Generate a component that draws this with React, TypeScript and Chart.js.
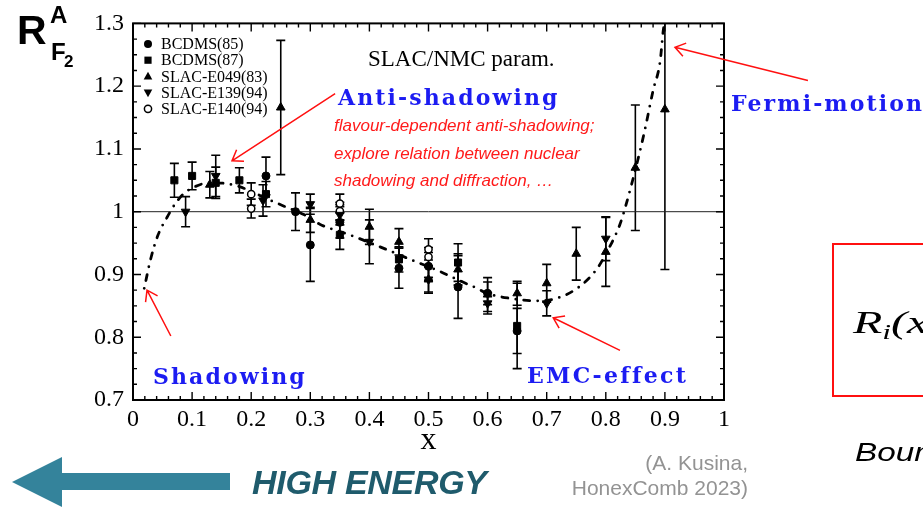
import React, { useEffect, useRef } from "react";
import { Chart, registerables } from "chart.js";

Chart.register(...registerables);

// ---------- data ----------
const seriesNames = ["BCDMS(85)", "BCDMS(87)", "SLAC-E049(83)", "SLAC-E139(94)", "SLAC-E140(94)"];

const bcdms85X = [0.225, 0.275, 0.30, 0.35, 0.45, 0.50, 0.55, 0.60, 0.65];
const bcdms85Y = [1.057, 1.000, 0.947, 0.983, 0.910, 0.913, 0.880, 0.870, 0.810];
const bcdms85Err = [0.030, 0.030, 0.058, 0.025, 0.032, 0.022, 0.050, 0.018, 0.036];

const bcdms87X = [0.07, 0.10, 0.14, 0.18, 0.225, 0.35, 0.45, 0.55, 0.65];
const bcdms87Y = [1.050, 1.057, 1.046, 1.050, 1.028, 0.963, 0.924, 0.919, 0.818];
const bcdms87Err = [0.027, 0.022, 0.025, 0.020, 0.020, 0.023, 0.020, 0.030, 0.068];

const e049X = [0.13, 0.25, 0.30, 0.40, 0.45, 0.50, 0.55, 0.60, 0.65, 0.70, 0.75, 0.80, 0.85, 0.90];
const e049Y = [1.043, 1.166, 0.987, 0.976, 0.952, 0.892, 0.908, 0.868, 0.870, 0.886, 0.933, 0.936, 1.070, 1.163];
const e049Err = [0.021, 0.107, 0.020, 0.028, 0.021, 0.020, 0.025, 0.027, 0.019, 0.030, 0.042, 0.055, 0.100, 0.255];

const e139X = [0.089, 0.14, 0.22, 0.30, 0.35, 0.40, 0.50, 0.60, 0.70, 0.80];
const e139Y = [1.000, 1.057, 1.018, 1.012, 0.995, 0.952, 0.892, 0.854, 0.854, 0.957];
const e139Err = [0.024, 0.033, 0.025, 0.016, 0.016, 0.035, 0.022, 0.017, 0.020, 0.035];

const e140X = [0.20, 0.20, 0.35, 0.35, 0.50, 0.50];
const e140Y = [1.028, 1.005, 1.013, 1.001, 0.940, 0.928];
const e140Err = [0.018, 0.015, 0.015, 0.014, 0.017, 0.015];

// SLAC/NMC parametrisation curve
const curveX = [0.019, 0.030, 0.042, 0.057, 0.071, 0.085, 0.105, 0.130, 0.156, 0.180, 0.203, 0.228, 0.260, 0.290, 0.316, 0.367, 0.418, 0.469, 0.519, 0.553, 0.582, 0.599, 0.638, 0.683, 0.717, 0.756, 0.785, 0.802, 0.824, 0.833, 0.853, 0.866, 0.880, 0.892, 0.897, 0.899];
const curveY = [0.878, 0.925, 0.962, 0.990, 1.012, 1.028, 1.040, 1.046, 1.045, 1.040, 1.031, 1.020, 1.007, 0.995, 0.980, 0.963, 0.944, 0.924, 0.905, 0.890, 0.878, 0.870, 0.862, 0.858, 0.862, 0.881, 0.909, 0.936, 0.980, 1.007, 1.078, 1.130, 1.193, 1.240, 1.287, 1.300];

const referenceY = 1.0;

const xTickLabels = ["0", "0.1", "0.2", "0.3", "0.4", "0.5", "0.6", "0.7", "0.8", "0.9", "1"];
const yTickLabels = ["0.7", "0.8", "0.9", "1", "1.1", "1.2", "1.3"];
const xTitle = "x";

// annotation arrows (data coordinates: tail -> head)
const arrowTailX = [0.342, 0.064, 0.824, 1.142];
const arrowTailY = [1.188, 0.802, 0.779, 1.209];
const arrowHeadX = [0.1675, 0.0237, 0.711, 0.917];
const arrowHeadY = [1.081, 0.875, 0.831, 1.262];

// ---------- helpers ----------
const pts = (xs: number[], ys: number[]) => xs.map((x, i) => ({ x, y: ys[i] }));
const SERIF = '"Liberation Serif", "Times New Roman", serif';
const SANS = '"Liberation Sans", Arial, sans-serif';
const BOLDSERIF = '"DejaVu Serif", serif';

function drawMarker(ctx: CanvasRenderingContext2D, kind: number, x: number, y: number) {
  ctx.save();
  ctx.fillStyle = "#000";
  ctx.strokeStyle = "#000";
  ctx.lineWidth = 1.5;
  ctx.beginPath();
  if (kind === 0) {
    ctx.arc(x, y, 4, 0, Math.PI * 2);
    ctx.fill();
  } else if (kind === 1) {
    ctx.rect(x - 3.6, y - 3.6, 7.2, 7.2);
    ctx.fill();
  } else if (kind === 2) {
    ctx.moveTo(x, y - 4.6);
    ctx.lineTo(x + 4.3, y + 3);
    ctx.lineTo(x - 4.3, y + 3);
    ctx.closePath();
    ctx.fill();
  } else if (kind === 3) {
    ctx.moveTo(x, y + 4.6);
    ctx.lineTo(x + 4.3, y - 3);
    ctx.lineTo(x - 4.3, y - 3);
    ctx.closePath();
    ctx.fill();
  } else {
    ctx.arc(x, y, 3.6, 0, Math.PI * 2);
    ctx.fillStyle = "#fff";
    ctx.fill();
    ctx.stroke();
  }
  ctx.restore();
}

const errorBarPlugin = {
  id: "errorBars",
  beforeDatasetsDraw(chart: any) {
    const { ctx, chartArea: a, scales } = chart;
    const xs = scales.x;
    const ys = scales.y;
    ctx.save();
    ctx.beginPath();
    ctx.rect(a.left, a.top, a.right - a.left, a.bottom - a.top);
    ctx.clip();
    ctx.strokeStyle = "#000";
    ctx.lineWidth = 1.6;
    chart.data.datasets.forEach((ds: any) => {
      const errs: number[] | undefined = ds.errors;
      if (!errs) return;
      ds.data.forEach((p: any, j: number) => {
        const px = xs.getPixelForValue(p.x);
        const y1 = ys.getPixelForValue(p.y + errs[j]);
        const y2 = ys.getPixelForValue(p.y - errs[j]);
        ctx.beginPath();
        ctx.moveTo(px, y1);
        ctx.lineTo(px, y2);
        ctx.moveTo(px - 4.5, y1);
        ctx.lineTo(px + 4.5, y1);
        ctx.moveTo(px - 4.5, y2);
        ctx.lineTo(px + 4.5, y2);
        ctx.stroke();
      });
    });
    ctx.restore();
  },
};

const frameTicksPlugin = {
  id: "frameTicks",
  afterDraw(chart: any) {
    const { ctx, chartArea: a, scales } = chart;
    const xs = scales.x;
    const ys = scales.y;
    ctx.save();
    ctx.strokeStyle = "#000";
    ctx.lineWidth = 1.4;
    ctx.beginPath();
    for (let i = 0; i <= 50; i++) {
      const px = xs.getPixelForValue(i * 0.02);
      const L = i % 5 === 0 ? 8 : 4;
      ctx.moveTo(px, a.bottom);
      ctx.lineTo(px, a.bottom - L);
      ctx.moveTo(px, a.top);
      ctx.lineTo(px, a.top + L);
    }
    for (let i = 0; i <= 24; i++) {
      const py = ys.getPixelForValue(0.7 + i * 0.025);
      const L = i % 4 === 0 ? 8 : 4;
      ctx.moveTo(a.left, py);
      ctx.lineTo(a.left + L, py);
      ctx.moveTo(a.right, py);
      ctx.lineTo(a.right - L, py);
    }
    ctx.stroke();
    ctx.lineWidth = 2;
    ctx.strokeRect(a.left, a.top, a.right - a.left, a.bottom - a.top);

    // legend
    ctx.font = `16px ${SERIF}`;
    ctx.fillStyle = "#000";
    ctx.textBaseline = "middle";
    ctx.textAlign = "left";
    seriesNames.forEach((name, i) => {
      const yy = 44 + i * 16.2;
      drawMarker(ctx, i, 148, yy);
      ctx.fillText(name, 161, yy + 1);
    });

    // red annotation arrows
    ctx.strokeStyle = "#ff1010";
    ctx.lineWidth = 1.5;
    arrowTailX.forEach((tx, i) => {
      const x1 = xs.getPixelForValue(tx);
      const y1 = ys.getPixelForValue(arrowTailY[i]);
      const x2 = xs.getPixelForValue(arrowHeadX[i]);
      const y2 = ys.getPixelForValue(arrowHeadY[i]);
      const ang = Math.atan2(y2 - y1, x2 - x1);
      const L = 12;
      ctx.beginPath();
      ctx.moveTo(x1, y1);
      ctx.lineTo(x2, y2);
      ctx.moveTo(x2 - L * Math.cos(ang - 0.6), y2 - L * Math.sin(ang - 0.6));
      ctx.lineTo(x2, y2);
      ctx.lineTo(x2 - L * Math.cos(ang + 0.6), y2 - L * Math.sin(ang + 0.6));
      ctx.stroke();
    });
    ctx.restore();
  },
};

function ChartCanvas() {
  const ref = useRef<HTMLCanvasElement | null>(null);
  useEffect(() => {
    if (!ref.current) return;
    const filled = { backgroundColor: "#000", borderColor: "#000", borderWidth: 1, showLine: false };
    const chart = new Chart(ref.current, {
      type: "scatter",
      data: {
        datasets: [
          { label: seriesNames[0], data: pts(bcdms85X, bcdms85Y), errors: bcdms85Err, pointStyle: "circle", pointRadius: 4, ...filled } as any,
          { label: seriesNames[1], data: pts(bcdms87X, bcdms87Y), errors: bcdms87Err, pointStyle: "rect", pointRadius: 5, ...filled } as any,
          { label: seriesNames[2], data: pts(e049X, e049Y), errors: e049Err, pointStyle: "triangle", pointRadius: 5, ...filled } as any,
          { label: seriesNames[3], data: pts(e139X, e139Y), errors: e139Err, pointStyle: "triangle", pointRotation: 180, pointRadius: 5, ...filled } as any,
          { label: seriesNames[4], data: pts(e140X, e140Y), errors: e140Err, pointStyle: "circle", pointRadius: 3.6, backgroundColor: "#fff", borderColor: "#000", borderWidth: 1.5, showLine: false } as any,
          {
            type: "line",
            label: "SLAC/NMC param.",
            data: pts(curveX, curveY),
            borderColor: "#000",
            borderWidth: 2.8,
            borderDash: [0, 8, 6, 8],
            borderCapStyle: "round",
            pointRadius: 0,
            tension: 0.4,
            cubicInterpolationMode: "monotone",
            fill: false,
          } as any,
          {
            type: "line",
            label: "ref",
            data: [{ x: 0, y: referenceY }, { x: 1, y: referenceY }],
            borderColor: "#222",
            borderWidth: 1,
            pointRadius: 0,
            fill: false,
          } as any,
        ],
      },
      options: {
        responsive: false,
        animation: false,
        devicePixelRatio: 1,
        layout: { padding: { left: 0, top: 19, right: 199, bottom: 0 } },
        plugins: { legend: { display: false }, tooltip: { enabled: false } },
        scales: {
          x: {
            type: "linear",
            min: 0,
            max: 1,
            grid: { display: false, drawTicks: false },
            border: { display: false },
            ticks: {
              stepSize: 0.1,
              padding: 5,
              color: "#000",
              autoSkip: false,
              maxRotation: 0,
              font: { family: SERIF, size: 24 },
              callback: (_v: any, i: number) => xTickLabels[i],
            },
            title: {
              display: true,
              text: xTitle,
              color: "#000",
              font: { family: SERIF, size: 32 },
              padding: { top: 0, bottom: 48 },
            },
            afterFit: (s: any) => {
              s.height = 108;
            },
          },
          y: {
            type: "linear",
            min: 0.7,
            max: 1.3,
            grid: { display: false, drawTicks: false },
            border: { display: false },
            ticks: {
              stepSize: 0.1,
              padding: 9,
              color: "#000",
              autoSkip: false,
              font: { family: SERIF, size: 24 },
              callback: (_v: any, i: number) => yTickLabels[i],
            },
            afterFit: (s: any) => {
              s.width = 133;
            },
          },
        },
      } as any,
      plugins: [errorBarPlugin, frameTicksPlugin],
    });
    return () => chart.destroy();
  }, []);
  return <canvas ref={ref} width={923} height={508} style={{ position: "absolute", left: 0, top: 0 }} />;
}

// text placed by baseline
function T(props: { left: number; baseline: number; size: number; family: string; color?: string; weight?: any; italic?: boolean; ls?: number; sx?: number; children: any; right?: boolean }) {
  const { left, baseline, size, family, color = "#000", weight = "normal", italic = false, ls = 0, sx = 1, children, right = false } = props;
  const style: any = {
    position: "absolute",
    top: baseline - 0.845 * size,
    fontSize: size,
    lineHeight: `${size}px`,
    fontFamily: family,
    color,
    fontWeight: weight,
    fontStyle: italic ? "italic" : "normal",
    letterSpacing: ls,
    whiteSpace: "nowrap",
    transform: sx !== 1 ? `scaleX(${sx})` : undefined,
    transformOrigin: right ? "right" : "left",
  };
  if (right) style.right = 923 - left;
  else style.left = left;
  return <div style={style}>{children}</div>;
}

export default function App() {
  const blue = "#1c1cf2";
  const red = "#ff1a1a";
  return (
    <div style={{ position: "fixed", left: 0, top: 0, width: 923, height: 508, overflow: "hidden", background: "#fff" }}>
      <ChartCanvas />
      {/* y axis title */}
      <T left={17} baseline={45} size={41} family={SANS} weight="bold">R</T>
      <T left={50} baseline={23} size={24} family={SANS} weight="bold">A</T>
      <T left={51} baseline={60} size={24} family={SANS} weight="bold">F</T>
      <T left={64} baseline={67} size={17} family={SANS} weight="bold">2</T>

      <T left={368} baseline={66} size={23} family={SERIF}>SLAC/NMC param.</T>
      <T left={338} baseline={105} size={22} family={BOLDSERIF} weight="bold" color={blue} ls={2.1}>Anti-shadowing</T>
      <T left={334} baseline={131} size={17} family={SANS} italic color={red}>flavour-dependent anti-shadowing;</T>
      <T left={334} baseline={159} size={17} family={SANS} italic color={red}>explore relation between nuclear</T>
      <T left={334} baseline={186} size={17} family={SANS} italic color={red}>shadowing and diffraction, …</T>
      <T left={153} baseline={384} size={22} family={BOLDSERIF} weight="bold" color={blue} ls={2.1}>Shadowing</T>
      <T left={527} baseline={383} size={22} family={BOLDSERIF} weight="bold" color={blue} ls={2.3}>EMC-effect</T>
      <T left={731} baseline={111} size={22} family={BOLDSERIF} weight="bold" color={blue} ls={2.1}>Fermi-motion</T>

      {/* red box */}
      <div style={{ position: "absolute", left: 832, top: 243, width: 200, height: 150, border: "2.5px solid #ff1010" }} />
      <T left={853} baseline={325} size={32} family={SERIF} italic sx={1.5}>
        R<span style={{ fontSize: 21, position: "relative", top: 6 }}>i</span>(x, Q<sup style={{ fontSize: 20 }}>2</sup>)
      </T>
      <T left={855} baseline={461} size={26} family={SANS} italic sx={1.28}>Bound</T>

      {/* bottom */}
      <svg width={240} height={60} style={{ position: "absolute", left: 0, top: 450 }}>
        <polygon points="12,32 62,7 62,23 230,23 230,40 62,40 62,57" fill="#34839b" />
      </svg>
      <T left={252} baseline={494} size={34} family={SANS} weight="bold" italic color="#1f5b6c" ls={-0.3}>HIGH ENERGY</T>
      <T left={748} baseline={470} size={21} family={SANS} color="#939393" right>(A. Kusina,</T>
      <T left={748} baseline={495} size={21} family={SANS} color="#939393" right>HonexComb 2023)</T>
    </div>
  );
}
